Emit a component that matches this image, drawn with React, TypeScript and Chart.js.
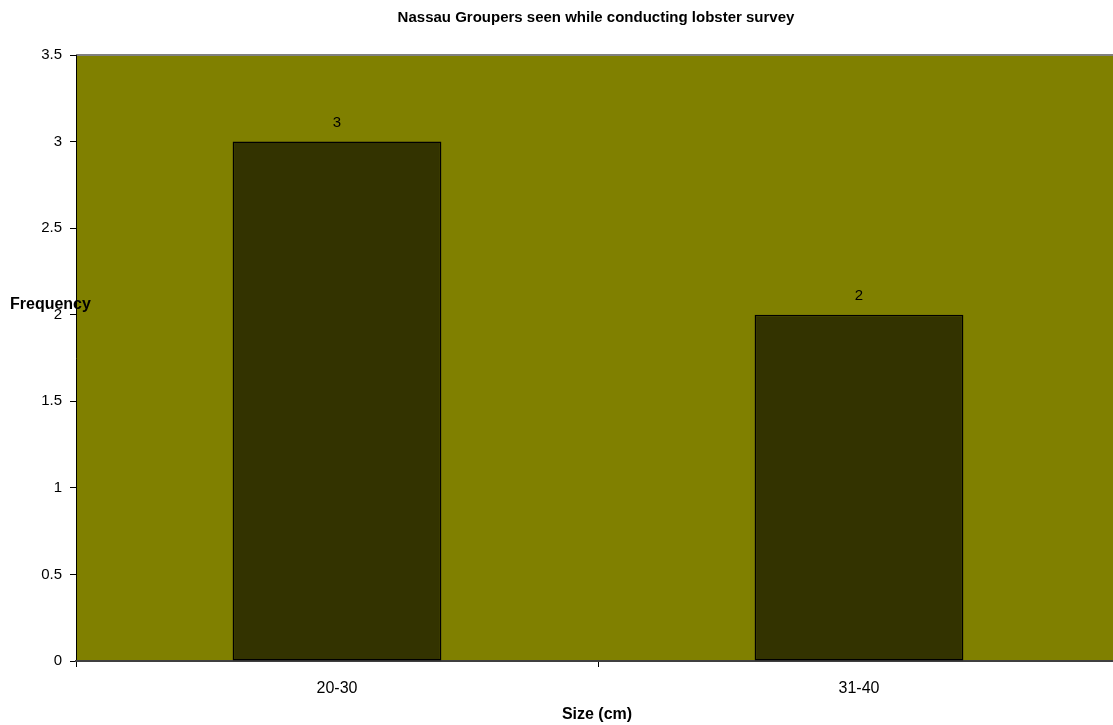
import React, { useEffect, useRef } from "react";
import { Chart, registerables } from "chart.js";

Chart.register(...registerables);

const categories = ["20-30", "31-40"];
const frequencies = [3, 2];
const yTicks = [0, 0.5, 1, 1.5, 2, 2.5, 3, 3.5];
const chartTitle = "Nassau Groupers seen while conducting lobster survey";
const xTitle = "Size (cm)";
const yTitle = "Frequency";

const FONT = "'Liberation Sans', Arial, sans-serif";

const decorPlugin = {
  id: "decor",
  beforeDraw(chart: any) {
    const { ctx, chartArea: a } = chart;
    ctx.save();
    ctx.fillStyle = "#808000";
    ctx.fillRect(a.left, a.top, a.right - a.left, a.bottom - a.top);
    ctx.strokeStyle = "#808080";
    ctx.lineWidth = 2;
    ctx.beginPath();
    ctx.moveTo(a.left, a.top);
    ctx.lineTo(a.right, a.top);
    ctx.stroke();
    ctx.restore();
  },
  afterDraw(chart: any) {
    const { ctx } = chart;
    ctx.save();
    ctx.fillStyle = "#000";
    ctx.textAlign = "center";
    ctx.textBaseline = "middle";
    ctx.font = `bold 15px ${FONT}`;
    ctx.fillText(chartTitle, 596, 18);
    ctx.font = `bold 16px ${FONT}`;
    ctx.fillText(xTitle, 597, 715);
    ctx.textAlign = "left";
    ctx.fillText(yTitle, 10, 305);
    // data labels
    ctx.textAlign = "center";
    ctx.font = `15px ${FONT}`;
    const meta = chart.getDatasetMeta(0);
    meta.data.forEach((bar: any, i: number) => {
      ctx.fillText(String(frequencies[i]), bar.x, bar.y - 19);
    });
    ctx.restore();
  },
};

export default function App() {
  const ref = useRef<HTMLCanvasElement>(null);
  useEffect(() => {
    if (!ref.current) return;
    const chart = new Chart(ref.current, {
      type: "bar",
      data: {
        labels: categories,
        datasets: [
          {
            data: frequencies,
            backgroundColor: "#333300",
            borderColor: "#000000",
            borderWidth: 1.5,
            borderSkipped: false,
            categoryPercentage: 0.8,
            barPercentage: 0.5,
          },
        ],
      },
      plugins: [decorPlugin],
      options: {
        responsive: false,
        animation: false,
        layout: { padding: { top: 55, left: 0, right: 0, bottom: 0 } },
        plugins: {
          legend: { display: false },
          tooltip: { enabled: false },
          title: { display: false },
        },
        scales: {
          y: {
            min: 0,
            max: 3.5,
            afterBuildTicks: (s: any) => {
              s.ticks = yTicks.map((v) => ({ value: v }));
            },
            afterFit: (s: any) => {
              s.width = 76;
            },
            border: { display: true, color: "#000000", width: 1 },
            grid: {
              drawOnChartArea: false,
              drawTicks: true,
              tickLength: 6,
              color: "#000000",
            },
            ticks: {
              color: "#000",
              font: { family: FONT, size: 15 },
              padding: 8,
              callback: (v: any) => String(v),
            },
          },
          x: {
            afterFit: (s: any) => {
              s.height = 64;
            },
            border: { display: true, color: "#404040", width: 2 },
            grid: {
              offset: true,
              drawOnChartArea: false,
              drawTicks: true,
              tickLength: 6,
              color: "#000000",
            },
            ticks: {
              color: "#000",
              font: { family: FONT, size: 16 },
              padding: 12,
            },
          },
        },
      },
    });
    return () => chart.destroy();
  }, []);
  return (
    <div
      style={{
        position: "fixed",
        left: 0,
        top: 0,
        width: 1113,
        height: 725,
        overflow: "hidden",
        background: "#fff",
      }}
    >
      <canvas ref={ref} width={1120} height={725} style={{ display: "block" }} />
    </div>
  );
}
